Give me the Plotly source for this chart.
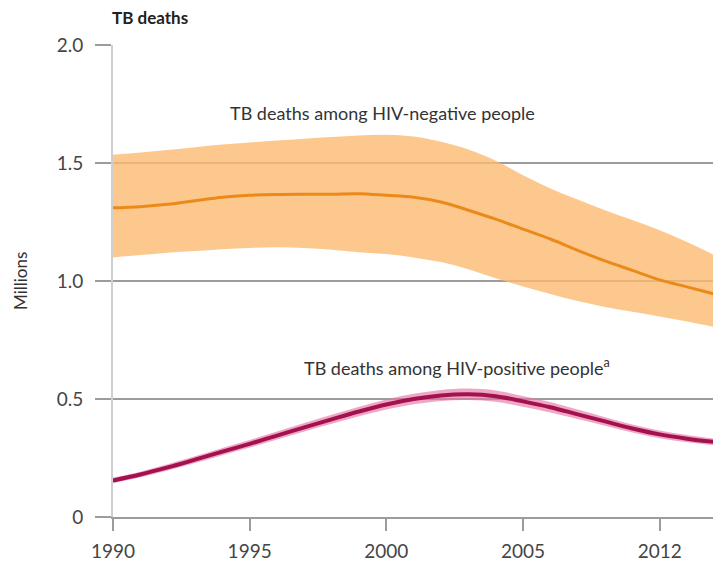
import plotly.graph_objects as go

# Estimated TB deaths (millions), 1990-2012, with uncertainty bounds
years = list(range(1990, 2013))

hiv_neg_best = [1.31, 1.315, 1.325, 1.34, 1.355, 1.363, 1.367, 1.368, 1.368, 1.37,
                1.363, 1.355, 1.335, 1.30, 1.262, 1.22, 1.178, 1.13, 1.085, 1.045,
                1.005, 0.975, 0.945]
hiv_neg_high = [1.535, 1.545, 1.555, 1.567, 1.578, 1.587, 1.595, 1.603, 1.61, 1.617,
                1.62, 1.612, 1.59, 1.557, 1.51, 1.448, 1.392, 1.345, 1.30, 1.258,
                1.215, 1.165, 1.11]
hiv_neg_low = [1.10, 1.11, 1.12, 1.127, 1.135, 1.14, 1.143, 1.14, 1.132, 1.122,
               1.114, 1.10, 1.08, 1.05, 1.012, 0.977, 0.945, 0.915, 0.89, 0.87,
               0.85, 0.828, 0.805]

hiv_pos_best = [0.155, 0.18, 0.21, 0.243, 0.277, 0.31, 0.345, 0.38, 0.414, 0.447,
                0.477, 0.50, 0.515, 0.52, 0.512, 0.49, 0.465, 0.435, 0.405, 0.375,
                0.35, 0.332, 0.318]
hiv_pos_high = [0.167, 0.192, 0.223, 0.257, 0.292, 0.326, 0.362, 0.398, 0.433, 0.467,
                0.498, 0.522, 0.538, 0.544, 0.536, 0.513, 0.487, 0.455, 0.423, 0.392,
                0.366, 0.347, 0.332]
hiv_pos_low = [0.143, 0.168, 0.197, 0.229, 0.262, 0.294, 0.328, 0.362, 0.395, 0.427,
               0.456, 0.478, 0.492, 0.496, 0.488, 0.467, 0.443, 0.415, 0.387, 0.358,
               0.334, 0.317, 0.304]

x_tick_vals = [1990, 1995, 2000, 2005, 2010]
x_tick_text = ["1990", "1995", "2000", "2005", "2012"]
y_tick_vals = [0, 0.5, 1.0, 1.5, 2.0]
y_tick_text = ["0", "0.5", "1.0", "1.5", "2.0"]

FONT = "Lato, 'Open Sans', sans-serif"
GRID = "#9c9c9c"
TEXT = "#333333"
TICK_TEXT = "#454545"

fig = go.Figure()

# HIV-negative uncertainty band and best estimate
fig.add_trace(go.Scatter(x=years, y=hiv_neg_high, mode="lines",
                         line=dict(width=0, shape="spline", smoothing=1.0),
                         hoverinfo="skip", showlegend=False))
fig.add_trace(go.Scatter(x=years, y=hiv_neg_low, mode="lines",
                         line=dict(width=0, shape="spline", smoothing=1.0),
                         fill="tonexty", fillcolor="rgba(252,186,114,0.80)",
                         hoverinfo="skip", showlegend=False))
fig.add_trace(go.Scatter(x=years, y=hiv_neg_best, mode="lines",
                         line=dict(color="#EB8A1A", width=3, shape="spline"), showlegend=False))

# HIV-positive uncertainty band and best estimate
fig.add_trace(go.Scatter(x=years, y=hiv_pos_high, mode="lines", line=dict(width=0, shape="spline"),
                         hoverinfo="skip", showlegend=False))
fig.add_trace(go.Scatter(x=years, y=hiv_pos_low, mode="lines", line=dict(width=0, shape="spline"),
                         fill="tonexty", fillcolor="rgba(232,120,168,0.65)",
                         hoverinfo="skip", showlegend=False))
fig.add_trace(go.Scatter(x=years, y=hiv_pos_best, mode="lines",
                         line=dict(color="#A3124F", width=4, shape="spline"), showlegend=False))

fig.update_layout(
    width=713, height=562,
    margin=dict(l=113, r=0, t=45, b=40),
    paper_bgcolor="white", plot_bgcolor="white",
    font=dict(family=FONT, color=TEXT),
    xaxis=dict(
        range=[1990, 2011.95], tickvals=x_tick_vals, ticktext=x_tick_text,
        showgrid=False, zeroline=False,
        showline=True, linecolor=GRID, linewidth=2,
        ticks="outside", ticklen=12, tickwidth=2, tickcolor=GRID,
        ticklabelstandoff=4,
        tickfont=dict(size=19, color=TICK_TEXT, family=FONT),
    ),
    yaxis=dict(
        range=[0, 2.0], tickvals=y_tick_vals, ticktext=y_tick_text,
        showgrid=True, gridcolor=GRID, gridwidth=2, zeroline=False,
        showline=True, linecolor="#cfcfcf", linewidth=2,
        ticks="outside", ticklen=16, tickwidth=2, tickcolor=GRID,
        ticklabelstandoff=8,
        tickfont=dict(size=19, color=TICK_TEXT, family=FONT),
    ),
    annotations=[
        dict(text="<b>TB deaths</b>", xref="paper", yref="paper", x=0, y=1,
             xanchor="left", yanchor="bottom", yshift=15, xshift=-3, showarrow=False,
             font=dict(size=17, color="#222222", family=FONT)),
        dict(text="Millions", xref="paper", yref="paper", x=0, y=0.5, xshift=-93,
             xanchor="center", yanchor="middle",
             textangle=-90, showarrow=False, font=dict(size=17, color=TEXT, family=FONT)),
        dict(text="TB deaths among HIV-negative people", x=1999.85, y=1.713,
             showarrow=False, font=dict(size=18, color=TEXT, family=FONT)),
        dict(text="TB deaths among HIV-positive people<sup>a</sup>", x=2002.6, y=0.637,
             showarrow=False, font=dict(size=18, color=TEXT, family=FONT)),
    ],
)

fig.write_html("out.html")
